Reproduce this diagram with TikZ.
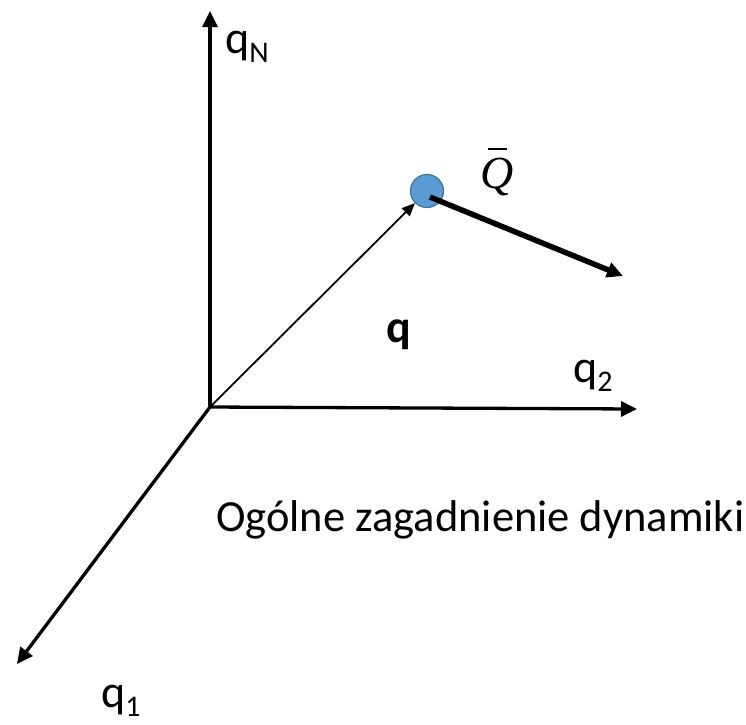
\documentclass[tikz,border=0pt]{standalone}
\usepackage{fontspec}
\setmainfont{Carlito}
\newfontfamily\qfont{Liberation Serif}
\usetikzlibrary{arrows.meta}
\definecolor{ptfill}{HTML}{5B9BD5}
\definecolor{ptdraw}{HTML}{41719C}
\newcommand{\mysub}[1]{\raisebox{-9pt}{\fontsize{30}{32}\selectfont #1}}
\tikzset{
  axis/.style={line width=3.3pt,-{Triangle[length=16pt,width=15pt]}},
  vec/.style={line width=1.8pt,-{Triangle[length=13pt,width=11pt]}},
  force/.style={line width=5.5pt,-{Triangle[length=16pt,width=15pt]}},
  lbl/.style={font=\fontsize{46}{50}\selectfont,inner sep=0pt,anchor=base west},
}
\begin{document}
\begin{tikzpicture}[x=1pt,y=-1pt]
\useasboundingbox (0,0) rectangle (746,724);
\coordinate (O) at (210,407);
\coordinate (qNend) at (210,11);
\coordinate (q2end) at (637,409);
\coordinate (q1end) at (17,664);
\node[circle,fill=ptfill,draw=ptdraw,line width=1.2pt,minimum size=33pt,inner sep=0pt] (P) at (427,191) {};
\coordinate (Fstart) at (430,197);
\coordinate (Fend) at (623,276);
\draw[axis] (O) -- (qNend);
\draw[axis] (O) -- (q2end);
\draw[axis] (O) -- (q1end);
\draw[vec] (O) -- (P.225);
\draw[force] (Fstart) -- (Fend);
\node[lbl] (lN) at (225,53) {q\mysub{N}};
\node[lbl] (l2) at (573,382) {q\mysub{2}};
\node[lbl] (l1) at (101,707) {q\mysub{1}};
\node[lbl,font=\fontsize{46}{50}\selectfont\bfseries] (lq) at (386,342) {q};
\node[inner sep=0pt,anchor=base west,font=\fontsize{46}{50}\qfont\itshape] (lQ) at (480,188) {Q\llap{\raisebox{38pt}{\rule{19pt}{2pt}}\hspace{6pt}}};
\node[lbl,font=\fontsize{44.5}{50}\selectfont] (title) at (216,531) {Ogólne zagadnienie dynamiki};
\end{tikzpicture}
\end{document}
